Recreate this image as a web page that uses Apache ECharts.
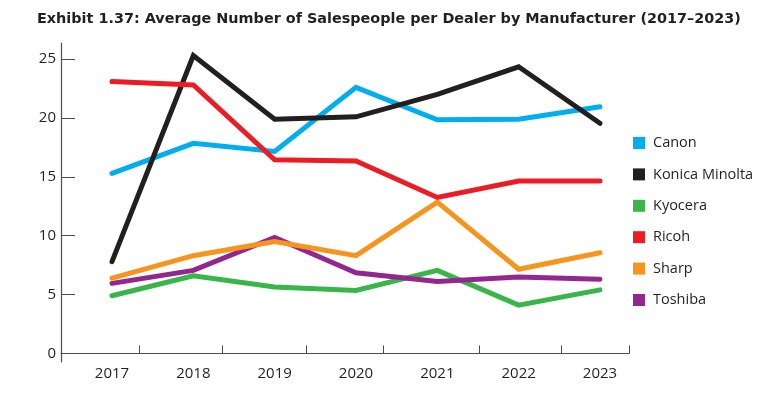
<!DOCTYPE html>
<html>
<head>
<meta charset="utf-8">
<script src="https://cdn.jsdelivr.net/npm/echarts@6/dist/echarts.min.js"></script>
<style>
  html, body { margin: 0; padding: 0; background: #fff; }
  #chart { width: 780px; height: 396px; }
</style>
</head>
<body>
<div id="chart"></div>
<script>
const years = [2017, 2018, 2019, 2020, 2021, 2022, 2023]
const canon = [15.3, 17.85, 17.15, 22.6, 19.85, 19.9, 20.95]
const konicaMinolta = [7.8, 25.3, 19.9, 20.1, 22.0, 24.35, 19.55]
const kyocera = [4.9, 6.6, 5.65, 5.35, 7.05, 4.1, 5.4]
const ricoh = [23.1, 22.8, 16.45, 16.35, 13.25, 14.65, 14.65]
const sharp = [6.4, 8.3, 9.5, 8.3, 12.85, 7.15, 8.55]
const toshiba = [5.95, 7.05, 9.85, 6.85, 6.1, 6.5, 6.3]

const yTicks = [0, 5, 10, 15, 20, 25]
// the source puts its x ticks between the years, not evenly
const xTicks = [2017.34, 2018.36, 2019.39, 2020.34, 2021.51, 2022.53, 2023.357]

const ink = '#231f20'
const font = '"Open Sans", sans-serif'

const makers = [
  { name: 'Canon', data: canon, color: '#00aeef', z: 2 },
  { name: 'Konica Minolta', data: konicaMinolta, color: '#231f20', z: 3 },
  { name: 'Kyocera', data: kyocera, color: '#39b54a', z: 2 },
  { name: 'Ricoh', data: ricoh, color: '#ed1c24', z: 5 },
  { name: 'Sharp', data: sharp, color: '#f7941d', z: 4 },
  { name: 'Toshiba', data: toshiba, color: '#92278f', z: 3 }
]

const chart = echarts.init(document.getElementById('chart'), null, { renderer: 'canvas' })

chart.setOption({
  animation: false,
  title: {
    text: 'Exhibit 1.37: Average Number of Salespeople per Dealer by Manufacturer (2017\u20132023)',
    left: 37, top: 12, padding: 0,
    textStyle: { fontFamily: '"DejaVu Sans", sans-serif', fontWeight: 'bold', fontSize: 14.4, color: ink }
  },
  grid: { left: 61, right: 151, top: 43, bottom: 34 },
  legend: {
    orient: 'vertical',
    left: 633, top: 135.5,
    padding: 0,
    icon: 'rect',
    itemWidth: 12, itemHeight: 12, itemGap: 16.4,
    textStyle: { fontFamily: font, fontSize: 14.5, color: ink, padding: [0, 0, 0, 3] },
    data: makers.map(m => m.name)
  },
  xAxis: {
    type: 'value',
    min: 2016.373, max: 2023.357,
    axisLine: { lineStyle: { color: '#4d4d4d', width: 1.2 } },
    axisTick: { inside: true, length: 8, lineStyle: { color: '#4d4d4d' }, customValues: xTicks },
    axisLabel: {
      customValues: years, margin: 4,
      formatter: v => String(v),
      fontFamily: font, fontSize: 15, color: ink
    },
    splitLine: { show: false }
  },
  yAxis: {
    type: 'value',
    min: -0.73, max: 26.37,
    axisLine: { show: true, lineStyle: { color: '#4d4d4d', width: 1.2 } },
    axisTick: { show: true, inside: true, length: 14, lineStyle: { color: '#4d4d4d' }, customValues: yTicks },
    axisLabel: { customValues: yTicks, margin: 5, fontFamily: font, fontSize: 15, color: ink },
    splitLine: { show: false }
  },
  series: makers.map(m => ({
    name: m.name,
    type: 'line',
    z: m.z,
    data: years.map((y, i) => [y, m.data[i]]),
    showSymbol: false,
    symbol: 'none',
    color: m.color,
    lineStyle: { color: m.color, width: 5, cap: 'round', join: 'miter' }
  }))
})
</script>
</body>
</html>
